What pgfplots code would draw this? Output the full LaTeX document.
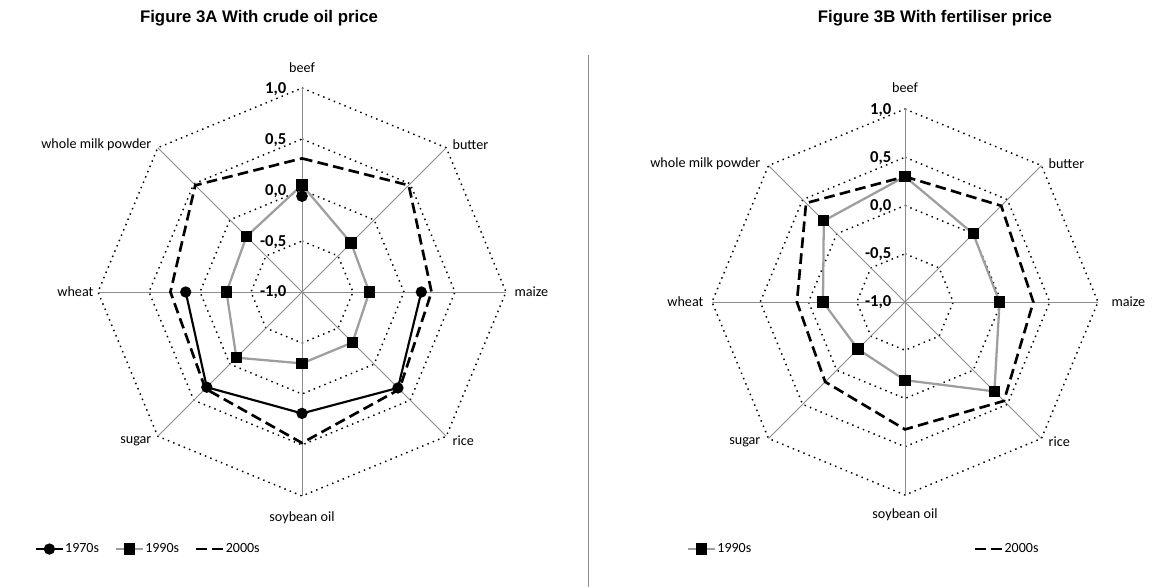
\documentclass[border=0pt]{standalone}
\usepackage{fontspec}
\setmainfont{Carlito}
\newfontfamily\arialfont{Liberation Sans}
\usepackage{pgfplots}
\pgfplotsset{compat=1.18}
\usepgfplotslibrary{polar}

\pgfplotsset{
  radar/.style={
    hide axis, scale only axis, clip=false,
    xmin=0, xmax=360, ymin=0, ymax=2,
    y filter/.expression={y+1},
    unbounded coords=jump,
    legend style={draw=none, fill=none, font=\fontsize{10.5}{12}\selectfont,
      legend cell align=left, inner sep=0pt, nodes={inner sep=1pt}},
    legend image code/.code={%
      \draw[mark repeat=2,mark phase=2,#1] plot coordinates {(0pt,0pt) (10pt,0pt) (20pt,0pt)};},
  },
  ring/.style={black, line width=1.1pt, dash pattern=on 1.1pt off 3.2pt, mark=none, forget plot},
  spoke/.style={black!45, line width=0.7pt, mark=none, forget plot},
  s70/.style={black, line width=1.6pt, mark=*, mark size=3.4pt, mark options={solid, fill=black}},
  s90/.style={black!38, line width=1.7pt, mark=square*, mark size=3.4pt, mark options={black, solid, fill=black}},
  s00/.style={black, line width=2pt, dash pattern=on 8pt off 4pt, mark=none},
}

\newcommand{\radargrid}{%
  \addplot[ring] coordinates {(90,1) (45,1) (0,1) (-45,1) (-90,1) (-135,1) (-180,1) (-225,1) (-270,1)};
  \addplot[ring] coordinates {(90,0.5) (45,0.5) (0,0.5) (-45,0.5) (-90,0.5) (-135,0.5) (-180,0.5) (-225,0.5) (-270,0.5)};
  \addplot[ring] coordinates {(90,0) (45,0) (0,0) (-45,0) (-90,0) (-135,0) (-180,0) (-225,0) (-270,0)};
  \addplot[ring] coordinates {(90,-0.5) (45,-0.5) (0,-0.5) (-45,-0.5) (-90,-0.5) (-135,-0.5) (-180,-0.5) (-225,-0.5) (-270,-0.5)};
  \addplot[spoke] coordinates {(90,-1) (90,1)};
  \addplot[spoke] coordinates {(45,-1) (45,1)};
  \addplot[spoke] coordinates {(0,-1) (0,1)};
  \addplot[spoke] coordinates {(-45,-1) (-45,1)};
  \addplot[spoke] coordinates {(-90,-1) (-90,1)};
  \addplot[spoke] coordinates {(-135,-1) (-135,1)};
  \addplot[spoke] coordinates {(-180,-1) (-180,1)};
  \addplot[spoke] coordinates {(-225,-1) (-225,1)};
}

\begin{document}
\begin{tikzpicture}[x=0.75pt,y=-0.75pt]
\useasboundingbox (0,0) rectangle (1154,587);

% titles
\node[font=\arialfont\bfseries\fontsize{12.6}{14}\selectfont] at (259,18) {Figure 3A With crude oil price};
\node[font=\arialfont\bfseries\fontsize{12.6}{14}\selectfont] at (935,18) {Figure 3B With fertiliser price};
% separator
\draw[black!45, line width=0.5pt] (588,55) -- (588,587);

% ---------- Left radar ----------
\begin{polaraxis}[radar, width=306pt, height=306pt, at={(226.5pt,-219pt)}, anchor=origin,
  legend columns=3,
  legend style={at={(-0.155,-0.13)}, anchor=west,
    /tikz/every even column/.append style={column sep=11pt}}]
\radargrid
\addplot[s70] coordinates {(90,-0.06) (45,nan) (0,0.17) (-45,0.33) (-90,0.19) (-135,0.32) (-180,0.14) (-225,nan) (-270,-0.06)};
\addlegendentry{1970s}
\addplot[s90] coordinates {(90,0.05) (45,-0.32) (0,-0.34) (-45,-0.30) (-90,-0.30) (-135,-0.09) (-180,-0.26) (-225,-0.23) (-270,0.05)};
\addlegendentry{1990s}
\addplot[s00] coordinates {(90,0.31) (45,0.48) (0,0.27) (-45,0.35) (-90,0.48) (-135,0.34) (-180,0.29) (-225,0.48) (-270,0.31)};
\addlegendentry{2000s}
\end{polaraxis}

% ---------- Right radar ----------
\begin{polaraxis}[radar, width=289.5pt, height=289.5pt, at={(678.75pt,-226.5pt)}, anchor=origin,
  legend columns=2,
  legend style={at={(-0.065,-0.14)}, anchor=west,
    /tikz/every even column/.append style={column sep=166pt}}]
\radargrid
\addplot[s90] coordinates {(90,0.30) (45,0.00) (0,-0.02) (-45,0.31) (-90,-0.19) (-135,-0.31) (-180,-0.15) (-225,0.19) (-270,0.30)};
\addlegendentry{1990s}
\addplot[s00] coordinates {(90,0.30) (45,0.41) (0,0.33) (-45,0.45) (-90,0.32) (-135,0.17) (-180,0.12) (-225,0.45) (-270,0.30)};
\addlegendentry{2000s}
\end{polaraxis}

% tick labels
\begin{scope}[every node/.style={font=\bfseries\fontsize{12.5}{14}\selectfont, anchor=east, inner sep=1pt}]
\node at (288,89) {1,0};
\node at (288,140) {0,5};
\node at (288,191) {0,0};
\node at (288,242) {-0,5};
\node at (288,292) {-1,0};
\node at (893,110) {1,0};
\node at (893,158) {0,5};
\node at (893,206) {0,0};
\node at (893,254) {-0,5};
\node at (893,302) {-1,0};
\end{scope}

% category labels
\begin{scope}[every node/.style={font=\fontsize{10.6}{12}\selectfont, inner sep=1pt}]
\node at (302,68) {beef};
\node[anchor=west] at (451,145) {butter};
\node[anchor=west] at (513,292) {maize};
\node[anchor=west] at (451,441) {rice};
\node at (302,518) {soybean oil};
\node[anchor=east] at (153,441) {sugar};
\node[anchor=east] at (95,292) {wheat};
\node[anchor=east] at (153,145) {whole milk powder};
\node at (905,88) {beef};
\node[anchor=west] at (1047,164) {butter};
\node[anchor=west] at (1110,302) {maize};
\node[anchor=west] at (1047,442) {rice};
\node at (905,515) {soybean oil};
\node[anchor=east] at (762,442) {sugar};
\node[anchor=east] at (705,302) {wheat};
\node[anchor=east] at (762,164) {whole milk powder};
\end{scope}
\end{tikzpicture}
\end{document}
